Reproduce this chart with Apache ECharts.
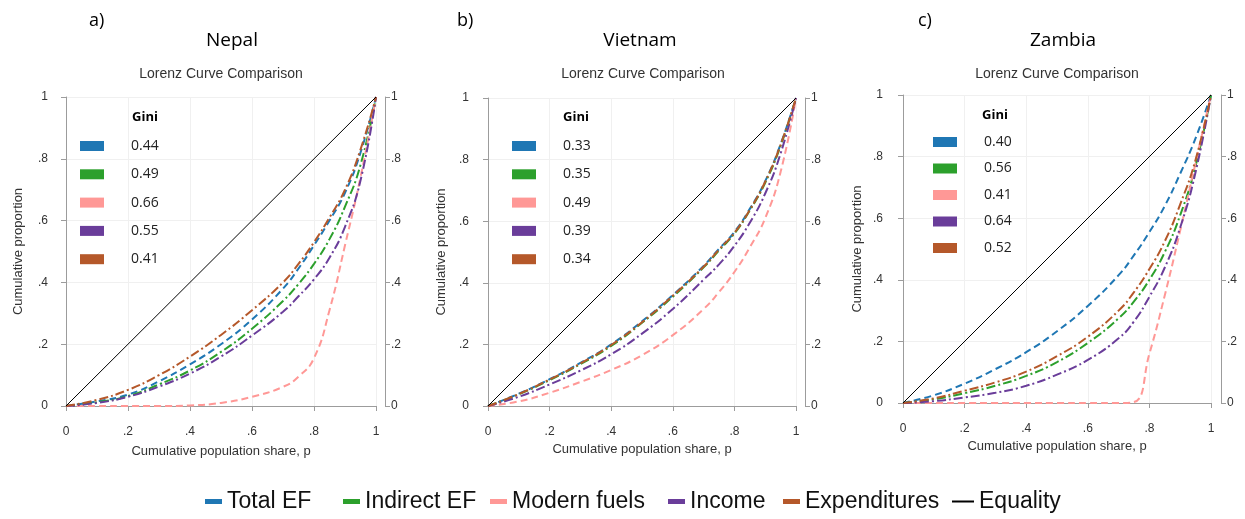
<!DOCTYPE html>
<html>
<head>
<meta charset="utf-8">
<script src="https://cdn.jsdelivr.net/npm/echarts@6/dist/echarts.min.js"></script>
<style>
html,body{margin:0;padding:0;background:#fff;}
#chart{width:1245px;height:519px;}
</style>
</head>
<body>
<div id="chart"></div>
<script>
// ---------------- DATA ----------------
const pShare = [0, 0.1, 0.2, 0.3, 0.4, 0.5, 0.6, 0.7, 0.75, 0.8, 0.85, 0.9, 0.95, 1];
const seriesNames = ['Total EF', 'Indirect EF', 'Modern fuels', 'Income', 'Expenditures'];
const panelLetters = ['a)', 'b)', 'c)'];
const countries = ['Nepal', 'Vietnam', 'Zambia'];
const subTitle = 'Lorenz Curve Comparison';
const giniHeader = 'Gini';

// Nepal
const nepalTotalEF      = [0, 0.015, 0.037, 0.08, 0.135, 0.20, 0.28, 0.38, 0.445, 0.52, 0.60, 0.69, 0.82, 1];
const nepalIndirectEF   = [0, 0.012, 0.032, 0.07, 0.115, 0.175, 0.25, 0.34, 0.395, 0.46, 0.54, 0.645, 0.78, 1];
const nepalModernFuels  = [0, 0, 0, 0, 0.002, 0.01, 0.03, 0.062, 0.095, 0.155, 0.31, 0.52, 0.74, 1];
const nepalIncome       = [0, 0.01, 0.03, 0.063, 0.105, 0.16, 0.228, 0.305, 0.355, 0.41, 0.48, 0.58, 0.73, 1];
const nepalExpenditures = [0, 0.02, 0.052, 0.10, 0.16, 0.23, 0.31, 0.40, 0.46, 0.53, 0.61, 0.70, 0.83, 1];
const nepalGini = ['0.44', '0.49', '0.66', '0.55', '0.41'];

// Vietnam
const vietnamTotalEF      = [0, 0.04, 0.087, 0.14, 0.20, 0.275, 0.36, 0.455, 0.51, 0.565, 0.64, 0.73, 0.85, 1];
const vietnamIndirectEF   = [0, 0.038, 0.084, 0.136, 0.195, 0.27, 0.355, 0.45, 0.505, 0.56, 0.635, 0.725, 0.845, 1];
const vietnamModernFuels  = [0, 0.015, 0.043, 0.078, 0.117, 0.165, 0.23, 0.315, 0.37, 0.435, 0.515, 0.61, 0.76, 1];
const vietnamIncome       = [0, 0.03, 0.07, 0.115, 0.168, 0.235, 0.315, 0.41, 0.46, 0.52, 0.595, 0.69, 0.82, 1];
const vietnamExpenditures = [0, 0.039, 0.086, 0.138, 0.198, 0.272, 0.358, 0.452, 0.508, 0.562, 0.637, 0.728, 0.848, 1];
const vietnamGini = ['0.33', '0.35', '0.49', '0.39', '0.34'];

// Zambia
const zambiaTotalEF      = [0, 0.025, 0.063, 0.11, 0.165, 0.233, 0.315, 0.415, 0.48, 0.555, 0.64, 0.745, 0.86, 1];
const zambiaIndirectEF   = [0, 0.012, 0.032, 0.056, 0.088, 0.133, 0.195, 0.275, 0.33, 0.40, 0.49, 0.61, 0.77, 1];
const zambiaModernFuels  = [0, 0, 0, 0, 0, 0, 0, 0, 0.003, 0.16, 0.35, 0.56, 0.78, 1];
const zambiaIncome       = [0, 0.006, 0.018, 0.033, 0.056, 0.092, 0.14, 0.21, 0.265, 0.345, 0.44, 0.57, 0.75, 1];
const zambiaExpenditures = [0, 0.015, 0.04, 0.067, 0.102, 0.152, 0.215, 0.30, 0.36, 0.435, 0.525, 0.645, 0.79, 1];
const zambiaGini = ['0.40', '0.56', '0.41', '0.64', '0.52'];

const equalityLine = [0, 1];
const axisTicks = [0, 0.2, 0.4, 0.6, 0.8, 1];
const equalityName = 'Equality';
const yAxisTitle = 'Cumulative proportion';
const xAxisTitle = 'Cumulative population share, p';

// ---------------- STYLE / LAYOUT ----------------
const colors = ['#1f77b4', '#2ca02c', '#ff9896', '#6a3d9a', '#b5582a'];
const dashes = [[7, 4], [9, 3, 2, 3], [7, 4], [9, 3, 2, 3], [9, 3, 2, 3]];
const panelData = [
  [nepalTotalEF, nepalIndirectEF, nepalModernFuels, nepalIncome, nepalExpenditures],
  [vietnamTotalEF, vietnamIndirectEF, vietnamModernFuels, vietnamIncome, vietnamExpenditures],
  [zambiaTotalEF, zambiaIndirectEF, zambiaModernFuels, zambiaIncome, zambiaExpenditures]
];
const panelGini = [nepalGini, vietnamGini, zambiaGini];
const grids = [
  {left: 66, top: 97, width: 310, height: 309},
  {left: 488, top: 98, width: 308, height: 308},
  {left: 903, top: 95, width: 308, height: 308}
];
const layout = [
  {letterX: 89, countryX: 232, subX: 221, yNameGap: 32, xNameGap: 30, yOff: 9, xOff: 9, rOff: 9,
   legX: 80, legTop: 139, legGap: 14.3, giniX: 132, giniTop: 111},
  {letterX: 457, countryX: 640, subX: 643, yNameGap: 30, xNameGap: 28, yOff: 10, xOff: 9, rOff: 9,
   legX: 512, legTop: 139, legGap: 14.3, giniX: 563, giniTop: 111},
  {letterX: 918, countryX: 1063, subX: 1057, yNameGap: 28, xNameGap: 28, yOff: 11, xOff: 9, rOff: 10,
   legX: 933, legTop: 135, legGap: 12.5, giniX: 982, giniTop: 109}
];
const bottomLegendX = [205, 343, 490, 668, 783, 952];

const axisFont = 'Liberation Sans, Arial, sans-serif';
const titleFont = 'Open Sans, Noto Sans, sans-serif';
const axisColor = '#9c9c9c';
const labelColor = '#333';

function fmt(v) {
  if (v === 0) return '0';
  if (v === 1) return '1';
  return String(+v.toFixed(1)).replace(/^0/, '');
}

const option = {
  animation: false,
  backgroundColor: '#fff',
  grid: grids.map(g => Object.assign({containLabel: false}, g)),
  xAxis: [], yAxis: [], series: [], title: [], legend: []
};

grids.forEach((g, i) => {
  const L = layout[i];
  option.xAxis.push({
    gridIndex: i, type: 'value', min: axisTicks[0], max: axisTicks[axisTicks.length - 1], interval: 0.2,
    offset: L.xOff,
    axisLine: {show: true, lineStyle: {color: axisColor, width: 1}},
    axisTick: {show: true, length: 5, lineStyle: {color: axisColor}},
    axisLabel: {formatter: fmt, color: labelColor, fontFamily: axisFont, fontSize: 12, margin: 11},
    splitLine: {show: true, lineStyle: {color: '#f0f0f0', width: 1}},
    name: xAxisTitle, nameLocation: 'middle', nameGap: L.xNameGap,
    nameTextStyle: {color: labelColor, fontFamily: axisFont, fontSize: 13}
  });
  option.yAxis.push({
    gridIndex: i, type: 'value', min: 0, max: 1, interval: 0.2, position: 'left', offset: L.yOff,
    axisLine: {show: true, lineStyle: {color: axisColor, width: 1}},
    axisTick: {show: true, length: 5, lineStyle: {color: axisColor}},
    axisLabel: {formatter: fmt, color: labelColor, fontFamily: axisFont, fontSize: 12, margin: 9},
    splitLine: {show: true, lineStyle: {color: '#f0f0f0', width: 1}},
    name: yAxisTitle, nameLocation: 'middle', nameGap: L.yNameGap,
    nameTextStyle: {color: labelColor, fontFamily: axisFont, fontSize: 13}
  });
  option.yAxis.push({
    gridIndex: i, type: 'value', min: 0, max: 1, interval: 0.2, position: 'right', offset: L.rOff,
    axisLine: {show: true, lineStyle: {color: axisColor, width: 1}},
    axisTick: {show: true, length: 5, lineStyle: {color: axisColor}},
    axisLabel: {formatter: fmt, color: labelColor, fontFamily: axisFont, fontSize: 12, margin: 6},
    splitLine: {show: false}
  });

  panelData[i].forEach((arr, k) => {
    option.series.push({
      name: seriesNames[k], type: 'line', xAxisIndex: i, yAxisIndex: 2 * i,
      data: pShare.map((p, j) => [p, arr[j]]),
      smooth: 0.5, showSymbol: false, symbol: 'none',
      itemStyle: {color: colors[k]},
      lineStyle: {color: colors[k], width: 2, type: dashes[k]},
      z: 3
    });
  });
  option.series.push({
    name: equalityName, type: 'line', xAxisIndex: i, yAxisIndex: 2 * i,
    data: equalityLine.map(v => [v, v]), showSymbol: false, symbol: 'none',
    itemStyle: {color: '#000'}, lineStyle: {color: '#000', width: 1}, z: 4
  });

  // titles
  option.title.push({text: panelLetters[i], left: L.letterX, top: 12, padding: 0,
    textStyle: {fontFamily: titleFont, fontSize: 18, fontWeight: 'normal', color: '#000'}});
  option.title.push({text: countries[i], left: L.countryX, top: 31, padding: 0, textAlign: 'center',
    textStyle: {fontFamily: titleFont, fontSize: 19, fontWeight: 'normal', color: '#000'}});
  option.title.push({text: subTitle, left: L.subX, top: 67, padding: 0, textAlign: 'center',
    textStyle: {fontFamily: axisFont, fontSize: 14, fontWeight: 'normal', color: '#333'}});
  option.title.push({text: giniHeader, left: L.giniX, top: L.giniTop, padding: 0,
    textStyle: {fontFamily: titleFont, fontSize: 13, fontWeight: 'bold', color: '#000'}});

  // inner Gini legend
  const gini = panelGini[i];
  option.legend.push({
    data: seriesNames, orient: 'vertical', left: L.legX, top: L.legTop, padding: 0,
    itemGap: L.legGap, itemWidth: 24, itemHeight: 10, icon: 'rect', selectedMode: false,
    formatter: name => '{g|' + gini[seriesNames.indexOf(name)] + '}',
    textStyle: {rich: {g: {fontFamily: titleFont, fontSize: 14, color: '#222', lineHeight: 16, padding: [0, 0, 0, 22]}}}
  });
});

// bottom legend
const bottomNames = seriesNames.concat([equalityName]);
bottomNames.forEach((n, k) => {
  const isEq = n === equalityName;
  option.legend.push({
    data: [n], left: bottomLegendX[k], top: 490, padding: 0, selectedMode: false,
    icon: 'rect', itemWidth: isEq ? 22 : 17, itemHeight: isEq ? 2 : 5,
    textStyle: {fontFamily: axisFont, fontSize: 23, color: '#111'}
  });
});

const chart = echarts.init(document.getElementById('chart'), null, {renderer: 'canvas'});
chart.setOption(option);
</script>
</body>
</html>
